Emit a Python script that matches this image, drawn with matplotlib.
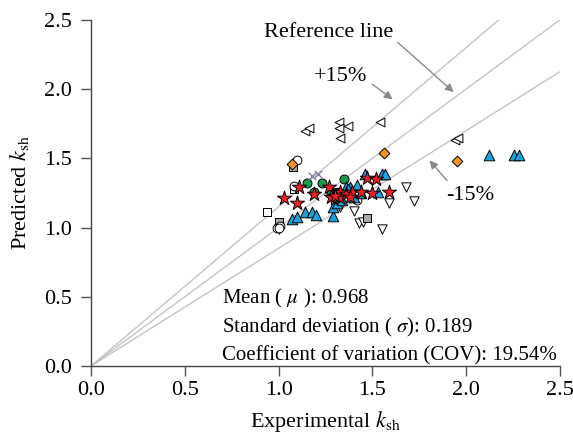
import numpy as np
import matplotlib
matplotlib.use("Agg")
import matplotlib.pyplot as plt

plt.rcParams["font.family"] = ["Liberation Serif", "DejaVu Serif"]
plt.rcParams["mathtext.fontset"] = "stix"

# experimental vs predicted k_sh, one group per test series
tri_left_x = [1.14, 1.16, 1.32, 1.32, 1.37, 1.33, 1.54, 1.94, 1.955]
tri_left_y = [1.70, 1.72, 1.76, 1.72, 1.73, 1.65, 1.76, 1.63, 1.645]

diamond_x = [1.07, 1.56, 1.95]
diamond_y = [1.46, 1.54, 1.48]

tri_up_x = [1.07, 1.10, 1.14, 1.18, 1.20, 1.29, 1.29, 1.31, 1.36, 1.38, 1.40, 1.44,
            1.46, 1.53, 1.55, 1.57, 1.34, 1.42, 1.31, 1.37, 2.12, 2.255, 2.28]
tri_up_y = [1.06, 1.075, 1.11, 1.11, 1.09, 1.08, 1.15, 1.18, 1.29, 1.29, 1.22, 1.25,
            1.39, 1.26, 1.39, 1.39, 1.20, 1.31, 1.25, 1.28, 1.525, 1.525, 1.525]

star_x = [1.03, 1.10, 1.11, 1.19, 1.27, 1.28, 1.33, 1.33, 1.36, 1.39, 1.44, 1.47,
          1.52, 1.50, 1.59, 1.30, 1.38]
star_y = [1.21, 1.18, 1.29, 1.24, 1.29, 1.22, 1.21, 1.26, 1.24, 1.26, 1.26, 1.36,
          1.35, 1.25, 1.26, 1.23, 1.22]

green_x = [1.15, 1.23, 1.19, 1.28, 1.35]
green_y = [1.32, 1.32, 1.26, 1.25, 1.35]

circle_x = [1.10, 1.08, 1.00, 1.33, 1.42]
circle_y = [1.49, 1.30, 1.00, 1.25, 1.20]

square_x = [0.94, 1.00, 1.08, 1.30]
square_y = [1.11, 1.03, 1.28, 1.20]

gray_sq_x = [1.077, 1.47, 1.00, 1.31]
gray_sq_y = [1.44, 1.07, 1.04, 1.26]

cross_x = [1.18, 1.21]
cross_y = [1.37, 1.39]

tri_down_x = [1.68, 1.72, 1.59, 1.43, 1.45, 1.55, 1.33, 1.40, 1.00]
tri_down_y = [1.29, 1.19, 1.18, 1.03, 1.04, 0.99, 1.15, 1.12, 0.99]

hex_x = [0.99, 1.01]
hex_y = [1.00, 1.01]

ref_slopes = [1.15, 1.0, 0.85]
stats_lines = [r"Mean ( $\mu$ ): 0.968",
               r"Standard deviation ( $\sigma$): 0.189",
               "Coefficient of variation (COV): 19.54%"]

fig = plt.figure(figsize=(5.73, 4.43), dpi=100)
ax = fig.add_axes([0.159, 0.174, 0.818, 0.781])

xs = np.array([0.0, 2.5])
for k in ref_slopes:
    ax.plot(xs, k * xs, color="#c4c4c4", lw=1.0, zorder=1)

edge = dict(edgecolors="black", linewidths=0.7, zorder=3)
ax.scatter(tri_left_x, tri_left_y, marker="<", s=40, facecolors="white", **edge)
ax.scatter(tri_down_x, tri_down_y, marker="v", s=45, facecolors="white", **edge)
ax.scatter(square_x, square_y, marker="s", s=30, facecolors="white", **edge)
ax.scatter(gray_sq_x, gray_sq_y, marker="s", s=30, facecolors="#a8a8a8", **edge)
ax.scatter(hex_x, hex_y, marker="8", s=45, facecolors="white", **edge)
ax.scatter(circle_x, circle_y, marker="o", s=40, facecolors="white", **edge)
ax.scatter(diamond_x, diamond_y, marker="D", s=30, facecolors="#f7931e", **edge)
ax.scatter(green_x, green_y, marker="o", s=42, facecolors="#179a4a", **edge)
ax.scatter(tri_up_x, tri_up_y, marker="^", s=58, facecolors="#1aa3de", **edge)
ax.scatter(star_x, star_y, marker="*", s=115, facecolors="#e8202a", **edge)
ax.scatter(cross_x, cross_y, marker="x", s=28, color="#8080a8", linewidths=1.0, zorder=4)

arrow = dict(arrowstyle="-|>", color="#8a8a8a", lw=1.0, mutation_scale=12)
ax.annotate("Reference line", xy=(1.945, 1.965), xytext=(1.265, 2.41),
            fontsize=16, ha="center", va="center",
            arrowprops=dict(**arrow, relpos=(1.0, 0.2)))
ax.annotate("+15%", xy=(1.62, 1.915), xytext=(1.33, 2.09),
            fontsize=16, ha="center", va="center",
            arrowprops=dict(**arrow, relpos=(1.0, 0.3)))
ax.annotate("-15%", xy=(1.795, 1.50), xytext=(2.02, 1.235),
            fontsize=16, ha="center", va="center",
            arrowprops=dict(**arrow, relpos=(0.15, 0.9)))

for i, line in enumerate(stats_lines):
    ax.text(0.70, 0.49 - i * 0.21, line, fontsize=15, ha="left", va="center")

ax.set_xlim(0, 2.5)
ax.set_ylim(0, 2.5)
ax.set_xticks(np.arange(0, 2.51, 0.5))
ax.set_yticks(np.arange(0, 2.51, 0.5))
ax.xaxis.set_major_formatter(matplotlib.ticker.FormatStrFormatter("%.1f"))
ax.yaxis.set_major_formatter(matplotlib.ticker.FormatStrFormatter("%.1f"))
ax.tick_params(direction="out", length=7, width=1.0, color="#555555", labelsize=16)
ax.tick_params(axis="y", pad=7)
ax.tick_params(axis="x", pad=4)
ax.spines["top"].set_visible(False)
ax.spines["right"].set_visible(False)
for s in ("left", "bottom"):
    ax.spines[s].set_color("#444444")
    ax.spines[s].set_linewidth(1.0)

ax.set_xlabel(r"Experimental $k_{\mathrm{sh}}$", fontsize=16, labelpad=6)
ax.set_ylabel(r"Predicted $k_{\mathrm{sh}}$", fontsize=16, labelpad=9)

fig.savefig("out.png", dpi=100)
